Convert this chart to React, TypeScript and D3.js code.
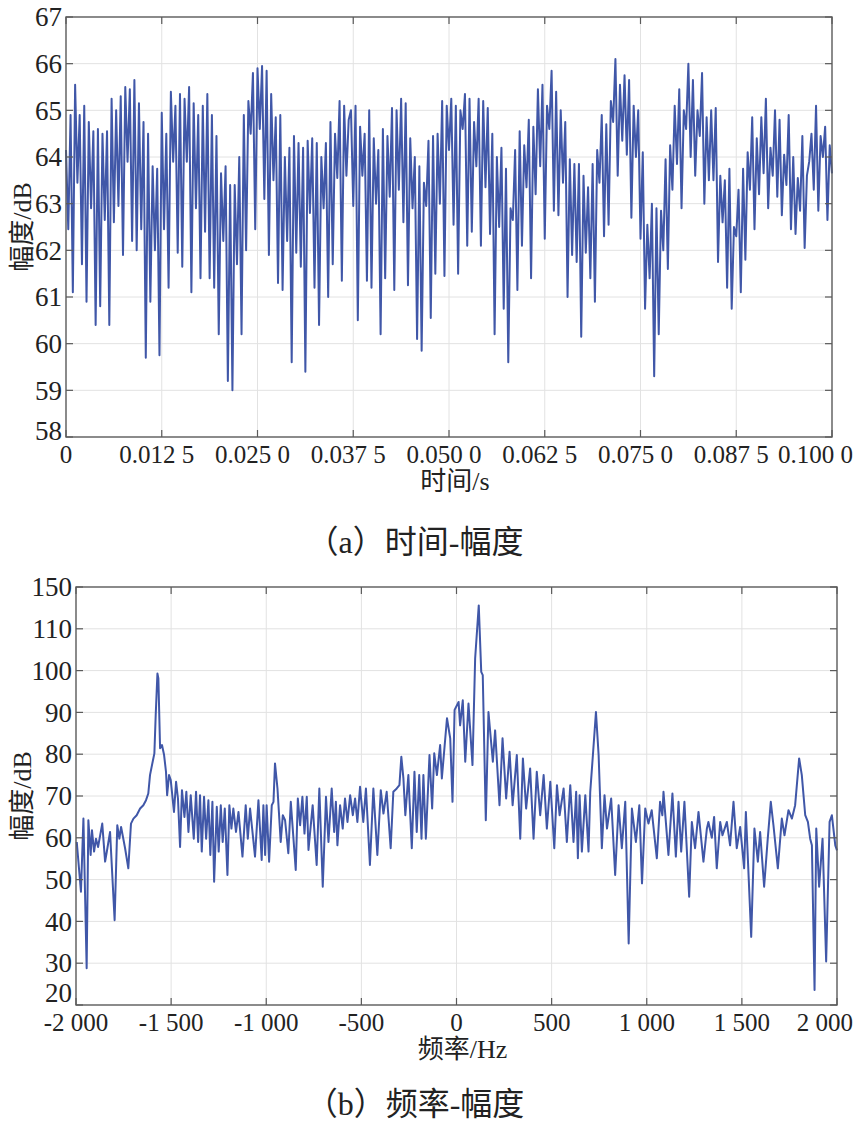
import * as d3 from 'd3';

// (a) amplitude in dB over time, one tick interval (0.012 5 s) at a time
const timeSeg1 = [
  64.15, 62.45, 64.9, 61.1, 65.55, 63.45, 64.9, 61.7, 65.1, 60.9,
  64.75, 62.9, 64.55, 60.4, 64.6, 60.8, 64.5, 62.65, 64.55, 60.4,
  65.25, 62.6, 65.0, 62.95, 65.3, 61.9, 65.5, 63.9, 65.45, 62.2,
  65.65, 62.0, 65.15, 62.45, 64.75, 59.7, 64.5, 60.9, 63.8, 62.0,
  63.75,
];
const timeSeg2 = [
  59.75, 64.95, 62.45, 64.5, 61.2, 65.4, 63.9, 65.1, 61.95, 65.35,
  61.65, 65.25, 63.9, 65.5, 61.1, 65.15, 62.9, 64.9, 61.4, 65.1,
  62.4, 65.35, 61.4, 64.9, 61.2, 64.45, 60.2, 63.65, 62.2, 63.8,
  59.2, 63.4, 59.0, 63.4, 61.7, 64.0, 60.2, 64.9, 62.0, 65.2,
  64.5, 65.8,
];
const timeSeg3 = [
  62.45, 65.9, 64.6, 65.95, 63.1, 65.85, 61.9, 65.35, 63.5, 64.85,
  61.3, 64.9, 61.15, 64.0, 62.2, 64.2, 59.6, 64.45, 61.95, 64.3,
  61.65, 64.2, 59.4, 64.35, 62.8, 64.4, 61.2, 64.3, 60.4, 64.0,
  62.9, 64.3, 61.0, 64.75, 61.7, 64.5, 63.55, 65.2, 61.35, 65.1,
  63.6, 64.8,
];
const timeSeg4 = [
  65.0, 62.95, 65.1, 60.5, 64.65, 63.6, 64.5, 61.35, 65.0, 61.2,
  64.4, 63.0, 64.15, 60.2, 64.6, 61.4, 64.45, 63.15, 65.05, 61.15,
  65.0, 63.3, 65.25, 62.6, 65.15, 61.25, 64.4, 62.9, 64.0, 60.1,
  63.8, 59.85, 63.45, 62.95, 64.35, 60.55, 64.45, 61.5, 64.5, 63.0,
  65.2, 61.45,
];
const timeSeg5 = [
  65.1, 64.15, 65.25, 62.55, 65.1, 61.5, 65.0, 64.6, 65.35, 62.1,
  65.25, 62.4, 64.75, 63.8, 65.25, 62.1, 65.2, 63.35, 65.05, 62.35,
  64.5, 60.2, 64.0, 62.5, 64.2, 60.75, 63.75, 59.6, 62.9, 62.65,
  64.15, 61.15, 64.55, 62.1, 64.25, 63.35, 64.8, 61.4, 64.65, 63.2,
  65.45, 63.8, 65.55,
];
const timeSeg6 = [
  62.25, 65.1, 64.6, 65.85, 62.85, 65.4, 62.75, 65.0, 63.45, 64.75,
  61.0, 63.95, 61.9, 63.85, 61.75, 63.85, 60.15, 63.6, 61.95, 63.35,
  61.4, 63.85, 60.9, 64.15, 63.45, 64.9, 62.3, 64.7, 62.55, 65.2,
  64.75, 66.1, 63.6, 65.55, 64.35, 65.75, 64.05, 65.65, 62.7, 65.1,
  64.0, 65.0,
];
const timeSeg7 = [
  62.25, 64.1, 60.75, 62.55, 61.4, 63.0, 59.3, 62.9, 60.2, 62.85,
  62.0, 63.95, 61.6, 64.25, 63.3, 65.1, 63.85, 65.45, 62.9, 65.0,
  64.6, 66.0, 64.0, 65.65, 63.6, 65.0, 64.45, 65.8, 63.0, 64.85,
  63.5, 65.0, 63.5, 65.05, 61.75, 63.6, 62.6, 63.5, 61.2, 63.75,
  60.75, 62.5, 62.3,
];
const timeSeg8 = [
  63.3, 61.1, 63.75, 61.8, 64.1, 63.3, 64.85, 62.45, 64.4, 63.2,
  64.85, 63.65, 65.25, 62.9, 64.2, 63.6, 65.0, 63.15, 64.8, 62.75,
  64.05, 63.4, 64.9, 62.45, 64.0, 62.35, 63.55, 62.85, 64.45, 62.05,
  63.6, 63.9, 64.5, 63.3, 65.1, 62.85, 64.45, 64.0, 64.65, 62.65,
  64.25, 63.65,
];
const timeEnd = 0.1;
const timeTicks = [0, 0.0125, 0.025, 0.0375, 0.05, 0.0625, 0.075, 0.0875, 0.1];
const timeTickLabels = ['0', '0.012 5', '0.025 0', '0.037 5', '0.050 0', '0.062 5', '0.075 0', '0.087 5', '0.100 0'];
const ampTicks = [58, 59, 60, 61, 62, 63, 64, 65, 66, 67];
const ampTickLabels = ampTicks.map(String);

// (b) spectrum as [Hz, dB], one array per 1 000 Hz
const specSegA: [number, number][] = [
  [-1996, 59.0], [-1974, 47.1], [-1961, 64.6], [-1944, 28.8], [-1935, 64.2], [-1923, 55.9], [-1916, 61.8],
  [-1905, 56.7], [-1895, 59.8], [-1884, 57.8], [-1862, 63.4], [-1847, 54.3], [-1835, 57.5], [-1821, 61.4],
  [-1797, 40.3], [-1783, 63.0], [-1772, 59.8], [-1763, 62.6], [-1742, 57.5], [-1725, 52.7], [-1711, 63.4],
  [-1698, 64.6], [-1681, 65.4], [-1663, 67.0], [-1646, 67.8], [-1632, 69.0], [-1620, 70.6], [-1611, 75.0],
  [-1597, 78.2], [-1588, 80.2], [-1581, 89.4], [-1572, 99.3], [-1567, 98.1], [-1558, 81.4], [-1548, 82.2],
  [-1537, 79.8], [-1527, 75.8], [-1521, 70.2], [-1511, 75.0], [-1502, 73.8], [-1485, 66.2], [-1474, 73.4],
  [-1464, 69.4], [-1453, 57.8], [-1443, 71.4], [-1430, 65.0], [-1420, 71.0], [-1409, 61.4], [-1397, 70.2],
  [-1381, 59.8], [-1369, 71.0], [-1358, 59.0], [-1348, 70.2], [-1339, 56.7], [-1327, 69.8], [-1316, 59.8],
  [-1304, 69.0], [-1294, 55.9], [-1283, 68.6], [-1274, 49.5], [-1260, 67.4], [-1250, 56.7], [-1239, 67.8],
  [-1229, 59.0], [-1218, 67.0], [-1204, 51.1], [-1194, 67.8], [-1183, 62.2], [-1173, 67.0], [-1159, 61.4],
  [-1146, 66.2], [-1125, 55.5], [-1108, 67.8], [-1097, 59.8], [-1085, 67.0], [-1059, 55.5], [-1041, 69.0],
  [-1024, 54.7],
];
const specSegB: [number, number][] = [
  [-1015, 67.8], [-1006, 55.9], [-998, 67.8], [-985, 54.3], [-971, 67.8], [-962, 68.6], [-954, 77.8],
  [-941, 71.8], [-924, 59.0], [-913, 65.4], [-901, 64.2], [-884, 56.3], [-871, 68.6], [-845, 52.3],
  [-834, 69.4], [-822, 63.0], [-810, 69.8], [-799, 61.0], [-787, 69.8], [-778, 57.1], [-756, 67.8],
  [-735, 53.5], [-721, 71.8], [-703, 48.3], [-686, 69.8], [-673, 59.0], [-656, 71.8], [-643, 61.4],
  [-634, 68.6], [-626, 58.2], [-612, 67.8], [-598, 62.2], [-586, 69.4], [-573, 63.8], [-559, 70.2],
  [-545, 65.4], [-533, 69.4], [-521, 63.8], [-507, 72.2], [-490, 63.8], [-476, 71.8], [-455, 53.5],
  [-437, 71.8], [-416, 55.9], [-398, 71.4], [-384, 65.8], [-367, 71.0], [-346, 57.5], [-332, 71.0],
  [-314, 71.8], [-300, 72.6], [-290, 79.4], [-279, 74.2], [-269, 65.4], [-253, 75.0], [-235, 57.5],
  [-221, 75.8], [-209, 61.4], [-196, 75.0], [-184, 59.8], [-174, 75.0], [-161, 59.8], [-142, 79.8],
  [-128, 67.0], [-117, 80.2], [-103, 75.0], [-86, 82.2], [-77, 74.2], [-50, 88.6], [-33, 83.8],
  [-21, 68.6], [-10, 90.6],
];
const specSegC: [number, number][] = [
  [11, 92.5], [19, 86.9], [33, 92.9], [46, 78.2], [63, 92.1], [84, 77.4], [98, 102.9],
  [117, 115.6], [130, 99.7], [138, 98.9], [154, 64.2], [168, 90.1], [191, 78.2], [203, 85.7],
  [226, 67.8], [242, 83.8], [261, 69.4], [279, 80.6], [295, 67.8], [317, 79.8], [335, 59.8],
  [349, 79.0], [366, 67.0], [387, 76.6], [405, 59.8], [422, 75.8], [440, 65.4], [458, 75.0],
  [475, 62.2], [493, 73.4], [514, 57.5], [528, 72.6], [542, 65.4], [563, 71.8], [580, 59.0],
  [598, 72.6], [615, 59.0], [629, 71.0], [638, 55.1], [647, 70.2], [659, 56.7], [677, 70.2],
  [694, 56.7], [703, 71.0], [717, 79.8], [733, 90.1], [747, 79.8], [764, 57.5], [778, 70.2],
  [791, 62.2], [813, 69.4], [834, 51.1], [852, 67.8], [869, 57.5], [887, 68.6], [905, 34.7],
  [922, 67.0], [943, 59.0], [961, 67.8], [975, 49.1], [992, 67.0],
];
const specSegD: [number, number][] = [
  [1009, 63.4], [1026, 66.6], [1053, 55.1], [1070, 68.6], [1082, 65.4], [1088, 71.0], [1114, 55.9],
  [1135, 70.6], [1153, 55.5], [1167, 68.6], [1181, 56.7], [1198, 68.6], [1223, 45.9], [1237, 63.8],
  [1254, 57.5], [1272, 66.2], [1298, 54.3], [1316, 62.2], [1324, 63.8], [1342, 60.0], [1354, 65.0],
  [1368, 52.7], [1386, 63.8], [1398, 60.6], [1421, 63.8], [1438, 58.2], [1456, 68.6], [1473, 57.5],
  [1491, 62.6], [1512, 52.7], [1521, 66.2], [1549, 36.3], [1566, 62.2], [1584, 54.3], [1596, 61.4],
  [1617, 48.3], [1636, 59.8], [1652, 68.6], [1666, 63.0], [1689, 52.7], [1710, 64.6], [1724, 60.6],
  [1745, 66.6], [1763, 64.6], [1780, 67.8], [1801, 79.0], [1815, 75.0], [1833, 65.4], [1847, 63.8],
  [1859, 59.8], [1868, 58.2], [1882, 23.6], [1891, 62.2], [1906, 48.3], [1924, 59.8], [1943, 30.4],
  [1961, 63.8], [1973, 65.4], [1991, 58.2], [2000, 57.0],
];
const freqTicks = [-2000, -1500, -1000, -500, 0, 500, 1000, 1500, 2000];
const freqTickLabels = ['-2 000', '-1 500', '-1 000', '-500', '0', '500', '1 000', '1 500', '2 000'];
const specTicks = [20, 30, 40, 50, 60, 70, 80, 90, 100, 110, 120];
// the top tick of the original figure is printed as 150
const specTickLabels = ['20', '30', '40', '50', '60', '70', '80', '90', '100', '110', '150'];

const serif = "'Liberation Serif', 'Times New Roman', serif";
const mixed = "'Liberation Serif', 'Noto Sans CJK SC', serif";
const lineColor = '#4057a8';
const pageRight = 853;

interface PanelProps {
  box: { left: number; top: number; right: number; bottom: number };
  points: [number, number][];
  xDomain: [number, number];
  yDomain: [number, number];
  xTicks: number[];
  xTickLabels: string[];
  yTicks: number[];
  yTickLabels: string[];
  xLabel: string;
  yLabel: string;
  caption: string;
  captionY: number;
  labelShift: number;
  bottomLabelRaise: number;
}

function Panel({ box, points, xDomain, yDomain, xTicks, xTickLabels, yTicks, yTickLabels, xLabel, yLabel, caption, captionY, labelShift, bottomLabelRaise }: PanelProps) {
  const x = d3.scaleLinear().domain(xDomain).range([box.left, box.right]);
  const y = d3.scaleLinear().domain(yDomain).range([box.bottom, box.top]);
  const line = d3.line<[number, number]>()
    .x(d => x(d[0]))
    .y(d => y(d[1]));
  const tickLen = 7;
  const midY = (box.top + box.bottom) / 2;
  const last = xTicks.length - 1;

  return (
    <g>
      {/* grid */}
      {xTicks.slice(1, -1).map(t => (
        <line key={'gx' + t} x1={x(t)} x2={x(t)} y1={box.top} y2={box.bottom} stroke="#e2e2e2" strokeWidth={1} />
      ))}
      {yTicks.slice(1, -1).map(t => (
        <line key={'gy' + t} x1={box.left} x2={box.right} y1={y(t)} y2={y(t)} stroke="#e2e2e2" strokeWidth={1} />
      ))}

      <path d={line(points) || ''} fill="none" stroke={lineColor} strokeWidth={2} strokeLinejoin="round" />

      {/* box and inward ticks */}
      <rect x={box.left} y={box.top} width={box.right - box.left} height={box.bottom - box.top}
        fill="none" stroke="#5a5a5a" strokeWidth={1.4} />
      {xTicks.map(t => (
        <g key={'tx' + t} stroke="#5a5a5a" strokeWidth={1.2}>
          <line x1={x(t)} x2={x(t)} y1={box.bottom} y2={box.bottom - tickLen} />
          <line x1={x(t)} x2={x(t)} y1={box.top} y2={box.top + tickLen} />
        </g>
      ))}
      {yTicks.map(t => (
        <g key={'ty' + t} stroke="#5a5a5a" strokeWidth={1.2}>
          <line x1={box.left} x2={box.left + tickLen} y1={y(t)} y2={y(t)} />
          <line x1={box.right} x2={box.right - tickLen} y1={y(t)} y2={y(t)} />
        </g>
      ))}

      {/* tick labels; the last one is pulled in so it stays on the page */}
      {xTicks.map((t, i) => (
        <text key={'lx' + t} x={i === last ? pageRight : x(t) - (i === 0 ? 0 : labelShift)} y={box.bottom + 26}
          textAnchor={i === last ? 'end' : 'middle'}
          fontFamily={serif} fontSize={25} fill="#222">{xTickLabels[i]}</text>
      ))}
      {yTicks.map((t, i) => (
        <text key={'ly' + t} x={box.left - 4} y={y(t) - (i === 0 ? bottomLabelRaise : 0)} dy="0.34em" textAnchor="end"
          fontFamily={serif} fontSize={27} fill="#222">{yTickLabels[i]}</text>
      ))}

      {/* axis labels and caption */}
      <text x={(box.left + box.right) / 2 + 6} y={box.bottom + 53} textAnchor="middle"
        fontFamily={mixed} fontSize={26} fill="#222">{xLabel}</text>
      <text transform={`translate(22,${midY}) rotate(-90)`} textAnchor="middle" dy="0.35em"
        fontFamily={mixed} fontSize={26} fill="#222">{yLabel}</text>
      <text x={415} y={captionY} textAnchor="middle"
        fontFamily={mixed} fontSize={32} fill="#222">{caption}</text>
    </g>
  );
}

export default function App() {
  const timeValues = [timeSeg1, timeSeg2, timeSeg3, timeSeg4, timeSeg5, timeSeg6, timeSeg7, timeSeg8].flat();
  const timePoints: [number, number][] = timeValues.map((v, i) => [(i * timeEnd) / (timeValues.length - 1), v]);
  const specPoints = [...specSegA, ...specSegB, ...specSegC, ...specSegD];

  return (
    <svg width={857} height={1124} style={{ position: 'absolute', left: 0, top: 0, background: '#fff' }}>
      <rect width={857} height={1124} fill="#fff" />
      <Panel
        box={{ left: 66, top: 17, right: 832, bottom: 437 }}
        points={timePoints}
        xDomain={[0, timeEnd]}
        yDomain={[58, 67]}
        xTicks={timeTicks}
        xTickLabels={timeTickLabels}
        yTicks={ampTicks}
        yTickLabels={ampTickLabels}
        xLabel="时间/s"
        yLabel="幅度/dB"
        caption="（a）时间-幅度"
        captionY={553}
        labelShift={5}
        bottomLabelRaise={6}
      />
      <Panel
        box={{ left: 76, top: 587, right: 837, bottom: 1005 }}
        points={specPoints}
        xDomain={[-2000, 2000]}
        yDomain={[20, 120]}
        xTicks={freqTicks}
        xTickLabels={freqTickLabels}
        yTicks={specTicks}
        yTickLabels={specTickLabels}
        xLabel="频率/Hz"
        yLabel="幅度/dB"
        caption="（b）频率-幅度"
        captionY={1115}
        labelShift={0}
        bottomLabelRaise={12}
      />
    </svg>
  );
}
